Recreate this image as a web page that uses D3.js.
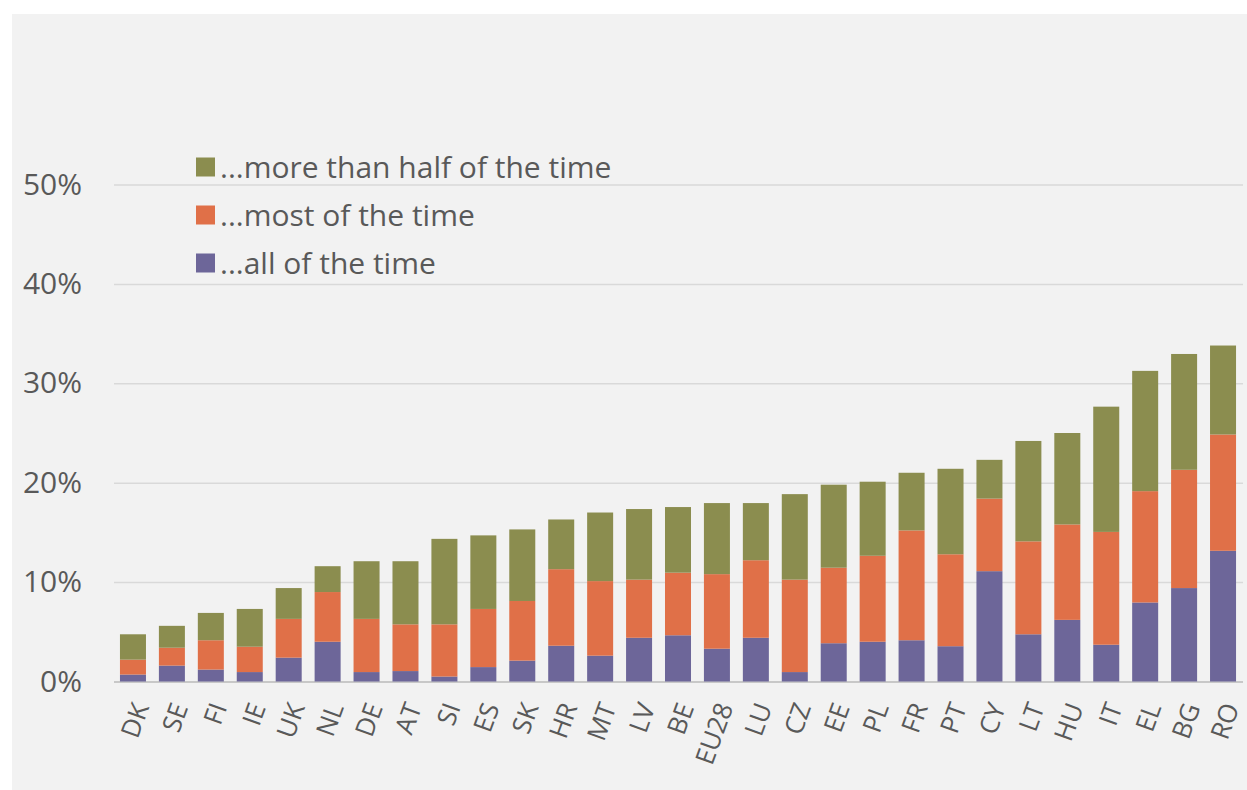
<!DOCTYPE html>
<html>
<head>
<meta charset="utf-8">
<script src="https://cdn.jsdelivr.net/npm/d3@7"></script>
<style>
  html, body { margin: 0; padding: 0; background: #ffffff; }
  svg { display: block; }
  text { font-family: "Open Sans", sans-serif; fill: #595959; }
</style>
</head>
<body>
<svg id="chart" width="1247" height="790"></svg>
<script>
// Countries, ordered by total share
const countries = ["DK","SE","FI","IE","UK","NL","DE","AT","SI","ES","SK","HR","MT","LV","BE","EU28","LU","CZ","EE","PL","FR","PT","CY","LT","HU","IT","EL","BG","RO"];

// Share of respondents (%) per answer
const allOfTheTime      = [0.7, 1.6, 1.2, 0.95, 2.4, 4.0, 0.95, 1.05, 0.5, 1.45, 2.1, 3.6, 2.6, 4.4, 4.65, 3.3, 4.4, 0.95, 3.85, 4.0, 4.15, 3.55, 11.1, 4.75, 6.2, 3.7, 7.95, 9.4, 13.15];
const mostOfTheTime     = [1.5, 1.8, 2.95, 2.55, 3.9, 5.0, 5.35, 4.7, 5.25, 5.85, 6.0, 7.7, 7.5, 5.85, 6.3, 7.5, 7.8, 9.3, 7.6, 8.65, 11.05, 9.25, 7.3, 9.35, 9.6, 11.35, 11.2, 11.9, 11.7];
const moreThanHalfTime  = [2.55, 2.2, 2.75, 3.8, 3.1, 2.6, 5.8, 6.35, 8.6, 7.4, 7.2, 5.0, 6.9, 7.1, 6.6, 7.15, 5.75, 8.6, 8.35, 7.45, 5.8, 8.6, 3.9, 10.1, 9.2, 12.6, 12.1, 11.65, 8.95];

const seriesKeys   = ["all", "most", "half"];
const seriesLabels = ["...all of the time", "...most of the time", "...more than half of the time"];
const seriesColors = ["#6d6699", "#e07048", "#8b8d4f"];
const yTicks = [0, 10, 20, 30, 40, 50];

const rows = countries.map((c, i) => ({
  country: c,
  all: allOfTheTime[i],
  most: mostOfTheTime[i],
  half: moreThanHalfTime[i]
}));

const svg = d3.select("#chart");

// Light grey chart panel
svg.append("rect")
  .attr("x", 12).attr("y", 14)
  .attr("width", 1235).attr("height", 776)
  .attr("fill", "#f2f2f2");

const x = d3.scaleBand()
  .domain(countries)
  .range([113.5, 1242.5])
  .paddingInner(0.332)
  .paddingOuter(0.166);

const y = d3.scaleLinear()
  .domain([0, 50])
  .range([681.5, 184.5]);

// Gridlines and tick labels
const yAxis = d3.axisLeft(y)
  .tickValues(yTicks)
  .tickSize(-(1243 - 114))
  .tickPadding(32)
  .tickFormat(d => d + "%");

const gy = svg.append("g")
  .attr("transform", "translate(114,0)")
  .call(yAxis);
gy.select(".domain").remove();
gy.selectAll(".tick line")
  .attr("stroke", d => d === 0 ? "#c8c8c8" : "#d9d9d9")
  .attr("stroke-width", d => d === 0 ? 2 : 1.5);
gy.selectAll(".tick text")
  .style("font-family", "'Open Sans', sans-serif")
  .style("font-size", "30px")
  .attr("fill", "#595959");

// Stacked bars
const stacked = d3.stack().keys(seriesKeys)(rows);

svg.append("g")
  .selectAll("g")
  .data(stacked)
  .join("g")
  .attr("fill", (d, i) => seriesColors[i])
  .selectAll("rect")
  .data(d => d)
  .join("rect")
  .attr("x", d => x(d.data.country))
  .attr("width", x.bandwidth())
  .attr("y", d => y(d[1]))
  .attr("height", d => y(d[0]) - y(d[1]));

// Category labels, rotated
svg.append("g")
  .selectAll("text")
  .data(countries)
  .join("text")
  .attr("transform", c => `translate(${x(c) + x.bandwidth() / 2 + 8},704) rotate(-70)`)
  .attr("text-anchor", "end")
  .attr("dy", "0.35em")
  .style("font-size", "26px")
  .text(c => c);

// Legend (top to bottom: more than half, most, all)
const legendOrder = [2, 1, 0];
const legend = svg.append("g")
  .selectAll("g")
  .data(legendOrder)
  .join("g")
  .attr("transform", (d, i) => `translate(196,${167 + i * 48})`);
legend.append("rect")
  .attr("x", 0).attr("y", -9.5)
  .attr("width", 19).attr("height", 19)
  .attr("fill", d => seriesColors[d]);
legend.append("text")
  .attr("x", 24)
  .attr("dy", "0.35em")
  .style("font-size", "30px")
  .text(d => seriesLabels[d]);
</script>
</body>
</html>
